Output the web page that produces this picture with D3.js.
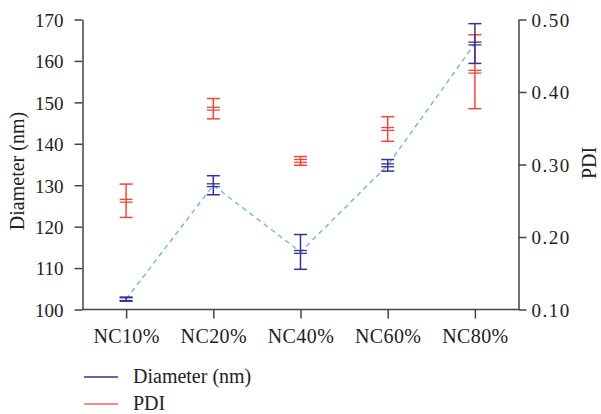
<!DOCTYPE html>
<html>
<head>
<meta charset="utf-8">
<script src="https://cdn.jsdelivr.net/npm/d3@7"></script>
<style>
  body { margin: 0; background: #fff; }
</style>
</head>
<body>
<div id="chart"></div>
<script>
var categories = ["NC10%", "NC20%", "NC40%", "NC60%", "NC80%"];
var diameter = [102.5, 130.0, 113.9, 134.8, 164.2];
var diameterErr = [0.5, 2.3, 4.2, 1.4, 4.8];
var pdi = [0.250, 0.377, 0.305, 0.349, 0.428];
var pdiErr = [0.023, 0.014, 0.006, 0.017, 0.051];
var leftTicks = [100, 110, 120, 130, 140, 150, 160, 170];
var rightTicks = [0.10, 0.20, 0.30, 0.40, 0.50];

var blue = "#3b2f93", red = "#f0473a", dash = "#6db6ea", axisCol = "#444", textCol = "#222";
var serif = "Liberation Serif";

var margin = {top: 19.5, left: 82.5, right: 82.5},
    width = 601 - margin.left - margin.right,
    height = 309.5 - margin.top;

var svg = d3.select("#chart").append("svg")
    .attr("width", 601)
    .attr("height", 414);

var g = svg.append("g")
    .attr("transform", "translate(" + margin.left + "," + margin.top + ")");

var x = d3.scalePoint().domain(categories).range([0, width]).padding(0.5);
var yL = d3.scaleLinear().domain([100, 170]).range([height, 0]);
var yR = d3.scaleLinear().domain([0.1, 0.5]).range([height, 0]);

// axes
var xAxis = g.append("g")
    .attr("transform", "translate(0," + height + ")")
    .call(d3.axisBottom(x).tickSize(9).tickSizeOuter(0));
xAxis.selectAll("text").attr("y", 33).attr("dy", 0)
    .attr("font-size", 20).attr("letter-spacing", 0.4);

var leftAxis = g.append("g")
    .call(d3.axisLeft(yL).tickValues(leftTicks).tickSize(8).tickSizeOuter(0).tickPadding(11));
leftAxis.selectAll("text").attr("font-size", 19).attr("dy", "0.36em");

var rightAxis = g.append("g")
    .attr("transform", "translate(" + width + ",0)")
    .call(d3.axisRight(yR).tickValues(rightTicks).tickFormat(d3.format(".2f")).tickSize(8).tickSizeOuter(0).tickPadding(5));
rightAxis.selectAll("text").attr("font-size", 19).attr("dy", "0.36em").attr("letter-spacing", 1.5);

[xAxis, leftAxis, rightAxis].forEach(function(a) {
  a.attr("font-family", serif);
  a.selectAll("text").attr("font-family", serif).attr("fill", textCol);
});

// extend baseline across full width
xAxis.select(".domain").attr("d", "M0,0H" + width);

g.selectAll(".domain, .tick line").attr("stroke", axisCol).attr("stroke-width", 1.5);

// axis titles
svg.append("text")
    .attr("transform", "translate(24,171) rotate(-90)")
    .attr("text-anchor", "middle")
    .attr("font-family", serif)
    .attr("font-size", 20)
    .attr("fill", textCol)
    .text("Diameter (nm)");

svg.append("text")
    .attr("transform", "translate(596,163) rotate(-90)")
    .attr("text-anchor", "middle")
    .attr("font-family", serif)
    .attr("font-size", 20)
    .attr("fill", textCol)
    .text("PDI");

// dashed line through diameter means
var line = d3.line()
    .x(function(d, i) { return x(categories[i]); })
    .y(function(d) { return yL(d); });

g.append("path")
    .attr("d", line(diameter))
    .attr("fill", "none")
    .attr("stroke", dash)
    .attr("stroke-width", 1.4)
    .attr("stroke-dasharray", "5,4");

function errorBars(vals, errs, scale, color) {
  var grp = g.append("g");
  vals.forEach(function(v, i) {
    var cx = x(categories[i]);
    var top = scale(v + errs[i]), bot = scale(v - errs[i]), mid = scale(v);
    grp.append("line").attr("x1", cx).attr("x2", cx).attr("y1", top).attr("y2", bot)
      .attr("stroke", color).attr("stroke-width", 1.5);
    [top, bot].forEach(function(yy) {
      grp.append("line").attr("x1", cx - 6.5).attr("x2", cx + 6.5).attr("y1", yy).attr("y2", yy)
        .attr("stroke", color).attr("stroke-width", 1.5);
    });
    [mid - 1.4, mid + 1.4].forEach(function(yy) {
      grp.append("line").attr("x1", cx - 6.5).attr("x2", cx + 6.5).attr("y1", yy).attr("y2", yy)
        .attr("stroke", color).attr("stroke-width", 1.3);
    });
  });
}

errorBars(pdi, pdiErr, yR, red);
errorBars(diameter, diameterErr, yL, blue);

// legend
var legend = svg.append("g");
var items = [{name: "Diameter (nm)", color: blue}, {name: "PDI", color: "#f26a5c"}];
items.forEach(function(d, i) {
  var yy = 377 + i * 27;
  legend.append("line").attr("x1", 84).attr("x2", 118).attr("y1", yy).attr("y2", yy)
    .attr("stroke", d.color).attr("stroke-width", 1.5);
  legend.append("text").attr("x", 133).attr("y", yy + 6)
    .attr("font-family", serif).attr("font-size", 20).attr("fill", textCol)
    .text(d.name);
});
</script>
</body>
</html>
